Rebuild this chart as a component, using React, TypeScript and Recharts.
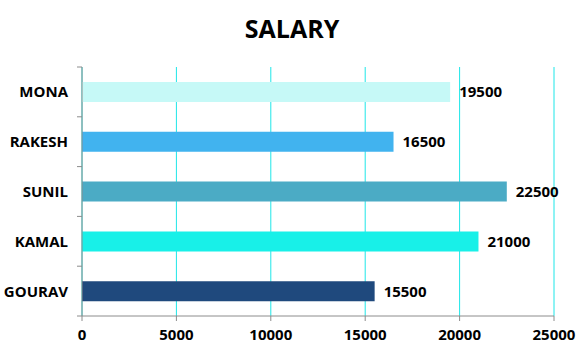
import { BarChart, Bar, XAxis, YAxis, CartesianGrid, Cell, LabelList } from 'recharts';

const names = ['MONA', 'RAKESH', 'SUNIL', 'KAMAL', 'GOURAV'];
const salaries = [19500, 16500, 22500, 21000, 15500];
const barColors = ['#c6f9f7', '#41b3ef', '#4babc5', '#18f0e8', '#1f497d'];
const xTicks = [0, 5000, 10000, 15000, 20000, 25000];

const rows = names.map((name, i) => ({ name, salary: salaries[i] }));

const FONT = '"Open Sans", sans-serif';
const GRID = '#1de6e8';
const AXIS = '#8c8c8c';
// half of one category band (plot height 249 / 5 / 2)
const HALF_BAND = 24.9;

function NameTick(props: any) {
  const { x, y, payload, index } = props;
  const axisX = x + 14;
  return (
    <g>
      <text x={x} y={y} dy="0.36em" textAnchor="end" fontFamily={FONT} fontWeight={700} fontSize={15} fill="#000">
        {payload.value}
      </text>
      <line x1={axisX - 5} x2={axisX} y1={y - HALF_BAND} y2={y - HALF_BAND} stroke={AXIS} />
      {index === names.length - 1 && (
        <line x1={axisX - 5} x2={axisX} y1={y + HALF_BAND} y2={y + HALF_BAND} stroke={AXIS} />
      )}
    </g>
  );
}

export default function App() {
  return (
    <div style={{ position: 'absolute', left: 0, top: 0, width: 584, height: 351, background: '#fff' }}>
      <div
        style={{
          position: 'absolute',
          left: 0,
          top: 11,
          width: 584,
          textAlign: 'center',
          fontFamily: FONT,
          fontWeight: 700,
          fontSize: 25,
          color: '#000',
        }}
      >
        SALARY
      </div>
      <BarChart
        width={584}
        height={351}
        data={rows}
        layout="vertical"
        margin={{ top: 67, right: 30, bottom: 0, left: 0 }}
      >
        <CartesianGrid horizontal={false} stroke={GRID} />
        <XAxis
          type="number"
          domain={[0, 25000]}
          ticks={xTicks}
          height={35}
          stroke={AXIS}
          tickSize={5}
          tickMargin={8}
          tick={{ fontFamily: FONT, fontWeight: 700, fontSize: 15, fill: '#000' }}
        />
        <XAxis
          xAxisId="top"
          orientation="top"
          type="number"
          domain={[0, 25000]}
          height={0}
          tick={false}
          tickLine={false}
          axisLine={{ stroke: GRID }}
        />
        <YAxis
          type="category"
          dataKey="name"
          width={82}
          stroke={AXIS}
          tickLine={false}
          tickSize={5}
          tickMargin={9}
          tick={<NameTick />}
        />
        <Bar dataKey="salary" barSize={20} isAnimationActive={false}>
          {rows.map((r, i) => (
            <Cell key={r.name} fill={barColors[i]} />
          ))}
          <LabelList
            dataKey="salary"
            position="right"
            offset={9}
            fontFamily={FONT}
            fontWeight={700}
            fontSize={15}
            fill="#000"
          />
        </Bar>
      </BarChart>
    </div>
  );
}
